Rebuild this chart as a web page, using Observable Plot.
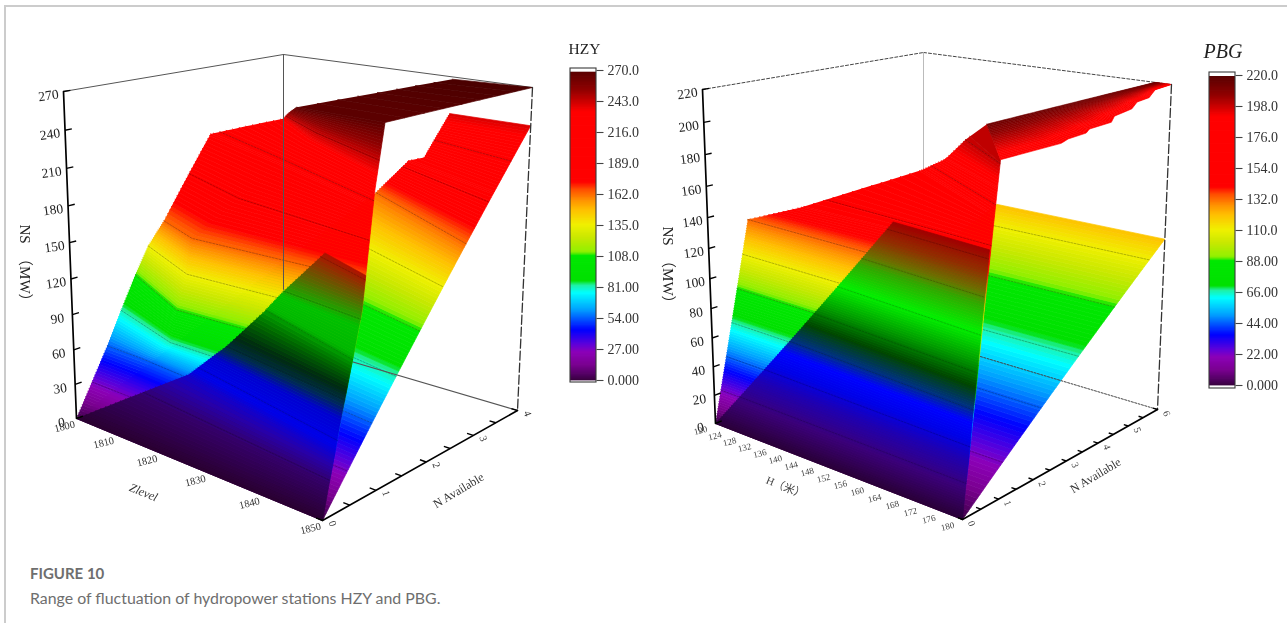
<!DOCTYPE html>
<html>
<head>
<meta charset="utf-8">
<script src="https://cdn.jsdelivr.net/npm/d3@7"></script>
<script src="https://cdn.jsdelivr.net/npm/@observablehq/plot@0.6"></script>
<style>
html,body{margin:0;padding:0;background:#fff;}
#page{position:relative;width:1287px;height:633px;overflow:hidden;}
#card{position:absolute;left:4px;top:5px;right:0;height:616px;border-left:2px solid #ccc;border-top:2px solid #ccc;}
#chart{position:absolute;left:0;top:0;filter:blur(0.5px);}
#cap{position:absolute;left:30px;top:563px;color:#6e6e6e;font-family:Lato,"Open Sans",sans-serif;}
#cap b{display:block;font-size:15px;line-height:20px;font-weight:700;}
#cap span{display:block;font-size:15.9px;line-height:20px;margin-top:5px;}
</style>
</head>
<body>
<div id="page"><div id="card"></div><div id="chart"></div>
<div id="cap"><b>FIGURE 10</b><span>Range of fluctuation of hydropower stations HZY and PBG.</span></div></div>
<script>
// ---------- colour bar palette (fraction of the top value -> colour)
const rampFrac = [0,.016,.048,.09,.113,.161,.226,.281,.306,.319,.40,.413,.458,.50,.548,.58,.613,.639,.865,.935,.994,1];
const rampColor = ["#3a0040","#500060","#7a0090","#8c00b8","#6000d8","#0000ff","#00a0ff","#00ffff","#20f0a0","#00e000","#00e800","#90f000","#c8e800","#f0f000","#ffc000","#ff9000","#ff5000","#ff0000","#ff0000","#900000","#5a0000","#4a0000"];
// shaded front sheets
const shadeHzyNS = [0,25,37,50,68,78,88,100,112,130,145,155,165,178,270];
const shadeHzyColor = ["#2a0030","#340068","#2800a8","#0000e8","#0000d0","#002a50","#002a10","#006a00","#00b800","#00c000","#507000","#804000","#b01000","#d00000","#500000"];
const shadePbgNS = [0,18,34,46,56,64,76,91,106,122,129,140,152,220];
const shadePbgColor = ["#2a0038","#3a0078","#2000b0","#0000e8","#0000ff","#003080","#004400","#00a000","#00f000","#30a800","#6a7000","#903000","#a00000","#500000"];

// ---------- HZY surfaces: knots on each outline (NS, level, N)
const hzyBackStartNS=[0,160,195,200,240], hzyBackStartL=[1800,1822,1829,1832,1836.5], hzyBackStartN=[0,4,4,4,4];
const hzyBackEndNS=[0,240], hzyBackEndL=[1850,1850], hzyBackEndN=[0,4];
const hzyMainStartNS=[0,54,81,108,135,162,213,235,268], hzyMainStartL=[1800,1800,1800,1800,1803,1808.5,1800,1816.5,1835], hzyMainStartN=[0,.57,.83,1.10,1.14,1.04,2.54,2.65,1.14];
const hzyMainMidNS=[0,54,81,108,135,162,213,235,268], hzyMainMidL=[1810,1809,1818,1819,1819.5,1819.5,1825,1830,1842], hzyMainMidN=[0,.55,.39,.43,.58,.68,1.8,1.9,1.1];
const hzyMainEndNS=[0,64,140,222,268], hzyMainEndL=[1850,1850,1850,1850,1850], hzyMainEndN=[0,.3,.68,.88,1.05];
const hzyTopStartNS=[268,270], hzyTopStartL=[1835,1838], hzyTopStartN=[1.14,3.85];
const hzyTopEndNS=[268,270], hzyTopEndL=[1850,1850], hzyTopEndN=[1.05,4];
const hzyFrontStartNS=[0,45,81,108,135,165], hzyFrontStartL=[1800,1816.5,1825.5,1829,1835.5,1840], hzyFrontStartN=[0,.83,.76,1.16,.86,1.14];
const hzyFrontEndNS=[0,64,140,165], hzyFrontEndL=[1850,1850,1850,1850], hzyFrontEndN=[0,.3,.68,.74];

// ---------- PBG surfaces
const pbgBackStartNS=[0,120], pbgBackStartH=[120,140], pbgBackStartN=[0,6];
const pbgBackEndNS=[0,120], pbgBackEndH=[180,180], pbgBackEndN=[0,6];
const pbgMainStartNS=[0,132,150,170,185,198,200], pbgMainStartH=[120,120,135.8,149.4,159.6,163.7,159.6], pbgMainStartN=[0,1,.85,2.6,2.04,2.08,3.2];
const pbgMainEndNS=[0,117,200], pbgMainEndH=[180,180,180], pbgMainEndN=[0,.53,.93];
const pbgTopStartNS=[200,220], pbgTopStartH=[159.6,176.5], pbgTopStartN=[3.2,6];
const pbgTopEndNS=[200,200.5,202,202.8,204.7,205.5,208.7,210.6,214,215,219,220], pbgTopEndN=[.93,2.62,2.82,3.35,3.45,4.11,4.2,4.74,4.9,5.28,5.47,6];
const pbgTopShadeNS=[184,214];
const pbgFrontStartNS=[0,76,152], pbgFrontStartH=[120,136.8,156.6], pbgFrontStartN=[0,.78,.98];
const pbgFrontEndNS=[0,152], pbgFrontEndH=[180,180], pbgFrontEndN=[0,.66];

// ---------- tick labels
const hzyNSTicks=[0,30,60,90,120,150,180,210,240,270];
const hzyLevelTicks=[1800,1810,1820,1830,1840,1850];
const hzyNTicks=[0,1,2,3,4];
const hzyNMinor=[.5,1.5,2.5,3.5];
const hzyBarTicks=[270,243,216,189,162,135,108,81,54,27,0];
const hzyBarLabels=["270.0","243.0","216.0","189.0","162.0","135.0","108.0","81.00","54.00","27.00","0.000"];
const pbgNSTicks=[0,20,40,60,80,100,120,140,160,180,200,220];
const pbgHTicks=[120,124,128,132,136,140,144,148,152,156,160,164,168,172,176,180];
const pbgNTicks=[0,1,2,3,4,5,6];
const pbgNMinor=[.5,1.5,2.5,3.5,4.5,5.5];
const pbgBarTicks=[220,198,176,154,132,110,88,66,44,22,0];
const pbgBarLabels=["220.0","198.0","176.0","154.0","132.0","110.0","88.00","66.00","44.00","22.00","0.000"];

// ---------- camera of each panel (image of the box corners)
const hzyCam={A0:[76,418],A1:[63,91],B0:[322,520],B1:[325,132],C0:[517,410],C1:[532,87],D0:[283,341],D1:[283,54],rL:1.32,rN:.88,rZ:1.075};
const pbgCam={A0:[715,423],A1:[702,89],B0:[962,519],B1:[965,130],C0:[1157,409],C1:[1171,84],D0:[923,339],D1:[923,52],rL:1.15,rN:.88,rZ:1.09};

const W=1287,H=556,SERIF='"Liberation Serif","Noto Sans CJK SC",serif';
const warp=(t,r)=>t/(t+(1-t)*r);
const mix=(a,b,t)=>[a[0]+(b[0]-a[0])*t,a[1]+(b[1]-a[1])*t];

function panel(cam,Lr,Nmax,Zmax){
  return (L,N,z)=>{
    const w=warp((L-Lr[0])/(Lr[1]-Lr[0]),cam.rL), n=warp(N/Nmax,cam.rN), f=warp(z/Zmax,cam.rZ);
    const lo=mix(mix(cam.A0,cam.B0,w),mix(cam.D0,cam.C0,w),n);
    const hi=mix(mix(cam.A1,cam.B1,w),mix(cam.D1,cam.C1,w),n);
    return mix(lo,hi,f);
  };
}
const knot=(zs,vs)=>d3.scaleLinear().domain(zs).range(vs).clamp(true);
const curve=(zs,Ls,Ns)=>({L:knot(zs,Ls),N:knot(zs,Ns),z:zs});

// A sheet is a stack of rows of constant NS running between its outline curves.
function sheet(P,curves,Zmax,shift,step,level,contourOpacity=.38){
  const all=curves.flatMap(c=>c.z);
  const zMin=d3.min(curves,c=>c.z[0]), zMax=d3.max(curves,c=>c.z[c.z.length-1]);
  const zs=[...new Set([...all,...d3.range(Math.ceil(zMin/step)*step,zMax,step)])].filter(z=>z>=zMin&&z<=zMax).sort((a,b)=>a-b);
  const row=z=>curves.map(c=>P(c.L(z),c.N(z),z));
  const bands=[];
  d3.pairs(zs).forEach(([z1,z2],i)=>{
    const v=shift+(z1+z2)/2/Zmax;
    [...row(z1),...row(z2).reverse()].forEach(p=>bands.push({x:p[0],y:p[1],band:i,v}));
  });
  const lines=[];
  d3.range(level,zMax,level).filter(z=>z>zMin).forEach(z=>row(z).forEach(p=>lines.push({x:p[0],y:p[1],k:z})));
  return [
    Plot.line(bands,{x:"x",y:"y",z:"band",fill:"v",stroke:"v",strokeWidth:.7}),
    Plot.line(lines,{x:"x",y:"y",z:"k",stroke:"#000",strokeOpacity:contourOpacity,strokeWidth:.7,strokeDasharray:"2 1.4"})
  ];
}
// The narrow top strip shades lengthwise, from its lower jagged rim to its upper rim.
function rimStrip(P,upper,lower,shade,Zmax){
  const zs=[...new Set([...lower.z,...d3.range(upper.z[0],upper.z[1],1)])].sort((a,b)=>a-b);
  const at=s=>zs.map(z=>mix(P(lower.L(z),lower.N(z),z),P(upper.L(z),upper.N(z),z),s));
  const rows=[],n=24;
  d3.range(n).forEach(i=>{
    const v=(shade[0]+(shade[1]-shade[0])*(i+.5)/n)/Zmax;
    [...at(i/n),...at((i+1)/n).reverse()].forEach(p=>rows.push({x:p[0],y:p[1],band:i,v}));
  });
  return Plot.line(rows,{x:"x",y:"y",z:"band",fill:"v",stroke:"v",strokeWidth:.6});
}
function edge(P,a,b,opt){
  const pts=[P(...a),P(...b)].map(p=>({x:p[0],y:p[1]}));
  return Plot.line(pts,{x:"x",y:"y",...opt});
}
function pts(list,f){return list.map(v=>{const p=f(v);return {x:p[0],y:p[1],v};});}
function links(list,f,g,opt){
  return Plot.link(list,{x1:v=>f(v)[0],y1:v=>f(v)[1],x2:v=>g(v)[0],y2:v=>g(v)[1],...opt});
}
function colorBar(b,Zmax,ticks,labels,title){
  const Y=v=>b.y0+(b.y1-b.y0)*v/Zmax;
  const vals=d3.range(0,Zmax,Zmax/240);
  const rows=vals.map(v=>({y1:Y(v)+.4,y2:Math.max(Y(v+Zmax/240)-.4,b.top),v:v/Zmax}));
  return [
    Plot.rect(rows,{x1:()=>b.x0,x2:()=>b.x1,y1:"y1",y2:"y2",fill:"v"}),
    Plot.rect([1],{x1:()=>b.x0,x2:()=>b.x1,y1:()=>b.frameBottom,y2:()=>b.frameTop,fill:"none",stroke:"#3a3a3a",strokeWidth:1.1}),
    Plot.link(ticks,{x1:()=>b.x1,x2:()=>b.x1+7,y1:v=>Y(v),y2:v=>Y(v),stroke:"#444",strokeWidth:1.1}),
    Plot.text(ticks,{x:()=>b.x1+11,y:v=>Y(v),text:(v,i)=>labels[i],textAnchor:"start",fontFamily:SERIF,fontSize:14,fill:"#333"}),
    Plot.text([title],{x:()=>b.titleX,y:()=>b.titleY,text:d=>d,textAnchor:"start",fontFamily:SERIF,fontSize:b.titleSize,fontStyle:b.titleStyle,fill:"#222"})
  ];
}

// ---------- left panel
const hp=panel(hzyCam,[1800,1850],4,270);
const hzyMarks=[
  edge(hp,[1800,0,270],[1800,4,270],{stroke:"#555",strokeWidth:1}),
  edge(hp,[1800,4,270],[1850,4,270],{stroke:"#555",strokeWidth:1}),
  ...sheet(hp,[curve(hzyBackStartNS,hzyBackStartL,hzyBackStartN),curve(hzyBackEndNS,hzyBackEndL,hzyBackEndN)],270,0,2,27),
  edge(hp,[1800,4,0],[1850,4,0],{stroke:"#555",strokeWidth:1.1}),
  ...sheet(hp,[curve(hzyMainStartNS,hzyMainStartL,hzyMainStartN),curve(hzyMainMidNS,hzyMainMidL,hzyMainMidN),curve(hzyMainEndNS,hzyMainEndL,hzyMainEndN)],270,0,2,27),
  ...sheet(hp,[curve(hzyTopStartNS,hzyTopStartL,hzyTopStartN),curve(hzyTopEndNS,hzyTopEndL,hzyTopEndN)],270,0,.25,27),
  edge(hp,[1800,4,270],[1800,4,52],{stroke:"#555",strokeWidth:1}),
  ...sheet(hp,[curve(hzyFrontStartNS,hzyFrontStartL,hzyFrontStartN),curve(hzyFrontEndNS,hzyFrontEndL,hzyFrontEndN)],270,2,2,27,.3),
  edge(hp,[1850,4,270],[1850,4,0],{stroke:"#333",strokeWidth:1.3,strokeDasharray:"9 3"}),
  edge(hp,[1800,0,0],[1800,0,270],{stroke:"#000",strokeWidth:1.7}),
  edge(hp,[1850,0,0],[1850,4,0],{stroke:"#000",strokeWidth:1.7}),
  links(hzyNSTicks,v=>hp(1800,0,v),v=>hp(1800,.11,v),{stroke:"#000",strokeWidth:1.4}),
  links([...hzyNTicks,...hzyNMinor],v=>hp(1850,v,0),v=>hp(1849,v,0),{stroke:"#000",strokeWidth:1.4}),
  Plot.text(pts(hzyNSTicks,v=>hp(1800,0,v)),{x:"x",y:"y",text:d=>String(d.v),dx:-15,dy:4,rotate:-8,fontFamily:SERIF,fontSize:13.5,fill:"#222"}),
  Plot.text(pts(hzyLevelTicks,v=>hp(v,0,0)),{x:"x",y:"y",text:d=>String(d.v),dx:-12,dy:8,rotate:-14,fontFamily:SERIF,fontSize:10.5,fill:"#333"}),
  Plot.text(pts(hzyNTicks,v=>hp(1850,v,0)),{x:"x",y:"y",text:d=>String(d.v),dx:10,dy:3,rotate:70,fontFamily:SERIF,fontSize:10.5,fill:"#333"}),
  Plot.text(["NS　（MW）"],{x:()=>24,y:()=>266,text:d=>d,rotate:90,fontFamily:SERIF,fontSize:15,fill:"#222"}),
  Plot.text(["Zlevel"],{x:()=>143,y:()=>492,text:d=>d,rotate:22,fontFamily:SERIF,fontSize:12,fontStyle:"italic",fill:"#333"}),
  Plot.text(["N Available"],{x:()=>458,y:()=>490,text:d=>d,rotate:-31,fontFamily:SERIF,fontSize:12,fill:"#333"}),
  ...colorBar({x0:570,x1:596,y0:380,y1:70,top:72,frameTop:68,frameBottom:382,titleX:568,titleY:49,titleSize:15.5,titleStyle:"normal"},270,hzyBarTicks,hzyBarLabels,"HZY")
];

// ---------- right panel
const pp=panel(pbgCam,[120,180],6,220);
const pbgTopLower={L:()=>180,N:knot(pbgTopEndNS,pbgTopEndN),z:pbgTopEndNS};
const pbgMarks=[
  edge(pp,[120,0,220],[120,6,220],{stroke:"#444",strokeWidth:1,strokeDasharray:"3 2"}),
  edge(pp,[120,6,220],[180,6,220],{stroke:"#444",strokeWidth:1,strokeDasharray:"3 2"}),
  edge(pp,[120,6,220],[120,6,0],{stroke:"#bbb",strokeWidth:1}),
  ...sheet(pp,[curve(pbgBackStartNS,pbgBackStartH,pbgBackStartN),curve(pbgBackEndNS,pbgBackEndH,pbgBackEndN)],220,0,1.6,22),
  edge(pp,[120,6,0],[180,6,0],{stroke:"#444",strokeWidth:1,strokeDasharray:"2 1.5"}),
  ...sheet(pp,[curve(pbgMainStartNS,pbgMainStartH,pbgMainStartN),curve(pbgMainEndNS,pbgMainEndH,pbgMainEndN)],220,0,1.6,22),
  rimStrip(pp,curve(pbgTopStartNS,pbgTopStartH,pbgTopStartN),pbgTopLower,pbgTopShadeNS,220),
  ...sheet(pp,[curve(pbgFrontStartNS,pbgFrontStartH,pbgFrontStartN),curve(pbgFrontEndNS,pbgFrontEndH,pbgFrontEndN)],220,4,1.4,21,.3),
  edge(pp,[180,6,220],[180,6,0],{stroke:"#333",strokeWidth:1.3,strokeDasharray:"9 3"}),
  edge(pp,[120,0,0],[120,0,220],{stroke:"#000",strokeWidth:1.7}),
  edge(pp,[180,0,0],[180,6,0],{stroke:"#000",strokeWidth:1.7}),
  links(pbgNSTicks,v=>pp(120,0,v),v=>pp(120,.16,v),{stroke:"#000",strokeWidth:1.4}),
  links([...pbgNTicks,...pbgNMinor],v=>pp(180,v,0),v=>pp(179,v,0),{stroke:"#000",strokeWidth:1.4}),
  Plot.text(pts(pbgNSTicks,v=>pp(120,0,v)),{x:"x",y:"y",text:d=>String(d.v),dx:-15,dy:4,rotate:-8,fontFamily:SERIF,fontSize:13.5,fill:"#222"}),
  Plot.text(pts(pbgHTicks,v=>pp(v,0,0)),{x:"x",y:"y",text:d=>String(d.v),dx:-15,dy:7,rotate:-14,fontFamily:SERIF,fontSize:9,fill:"#444"}),
  Plot.text(pts(pbgNTicks,v=>pp(180,v,0)),{x:"x",y:"y",text:d=>String(d.v),dx:9,dy:4,rotate:70,fontFamily:SERIF,fontSize:10,fill:"#444"}),
  Plot.text(["NS　（MW）"],{x:()=>667,y:()=>268,text:d=>d,rotate:90,fontFamily:SERIF,fontSize:15,fill:"#222"}),
  Plot.text(["H（米）"],{x:()=>785,y:()=>487,text:d=>d,rotate:22,fontFamily:SERIF,fontSize:11,fill:"#444"}),
  Plot.text(["N Available"],{x:()=>1095,y:()=>475,text:d=>d,rotate:-31,fontFamily:SERIF,fontSize:12,fill:"#333"}),
  ...colorBar({x0:1209,x1:1235,y0:385,y1:75,top:76,frameTop:72,frameBottom:388,titleX:1203,titleY:51,titleSize:20,titleStyle:"italic"},220,pbgBarTicks,pbgBarLabels,"PBG")
];

const rampDomain=[...rampFrac,...shadeHzyNS.map(v=>2+v/270),...shadePbgNS.map(v=>4+v/220)];
const rampRange=[...rampColor,...shadeHzyColor,...shadePbgColor];

const chart=Plot.plot({
  width:W,height:H,margin:0,
  style:{background:"transparent",overflow:"visible"},
  x:{domain:[0,W],range:[0,W],axis:null},
  y:{domain:[0,H],range:[0,H],axis:null},
  color:{type:"linear",domain:rampDomain,range:rampRange,interpolate:"rgb",legend:false},
  marks:[...hzyMarks,...pbgMarks]
});
document.getElementById("chart").appendChild(chart);
</script>
</body>
</html>
